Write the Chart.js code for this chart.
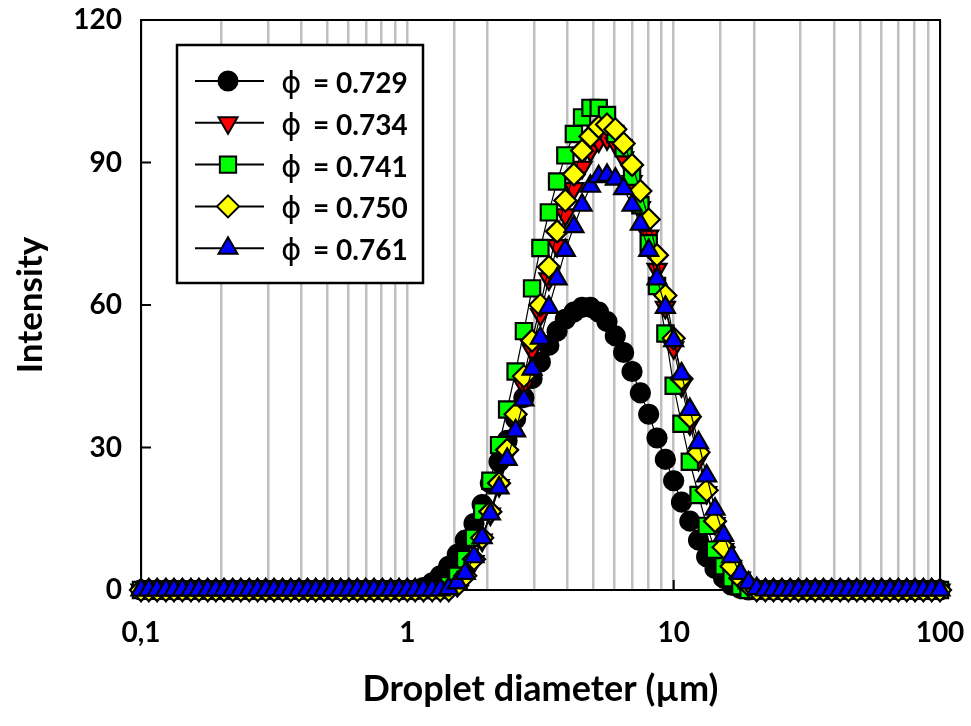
<!DOCTYPE html>
<html>
<head>
<meta charset="utf-8">
<script src="https://cdn.jsdelivr.net/npm/chart.js@4.4.1/dist/chart.umd.min.js"></script>
<style>
  html, body { margin: 0; padding: 0; background: #fff; }
</style>
</head>
<body>
<canvas id="c" width="971" height="726"></canvas>
<script>
// droplet diameter classes (um), log spaced
const diameters = [
  0.1, 0.107, 0.115, 0.124, 0.133, 0.143, 0.154, 0.165, 0.178, 0.191, 0.205, 0.221, 0.237, 0.255, 0.274, 0.294,
  0.316, 0.340, 0.365, 0.392, 0.422, 0.453, 0.487, 0.523, 0.562, 0.604, 0.649, 0.698, 0.750, 0.806, 0.866, 0.931,
  1, 1.07, 1.15, 1.24, 1.33, 1.43, 1.54, 1.65, 1.78, 1.91, 2.05, 2.21, 2.37, 2.55, 2.74, 2.94,
  3.16, 3.40, 3.65, 3.92, 4.22, 4.53, 4.87, 5.23, 5.62, 6.04, 6.49, 6.98, 7.50, 8.06, 8.66, 9.31,
  10, 10.7, 11.5, 12.4, 13.3, 14.3, 15.4, 16.5, 17.8, 19.1, 20.5, 22.1, 23.7, 25.5, 27.4, 29.4,
  31.6, 34.0, 36.5, 39.2, 42.2, 45.3, 48.7, 52.3, 56.2, 60.4, 64.9, 69.8, 75.0, 80.6, 86.6, 93.1,
  100
];

const phiValues = ['0.729', '0.734', '0.741', '0.750', '0.761'];

const d729 = [
  0,0,0,0,0,0,0,0,0,0,0,0,0,0,0,0,
  0,0,0,0,0,0,0,0,0,0,0,0,0,0,0,0,
  0,0,0.5,1.5,3,5,7.5,10.5,14,18,22.5,27,31.5,36,40.5,44.5,
  48,51.5,54.5,57,58.5,59.5,59.5,58.5,56.5,53.5,50,46,41.5,37,32,27.5,
  23,18.5,14.5,10.5,7,4.5,2.5,1,0.3,0,0,0,0,0,0,0,
  0,0,0,0,0,0,0,0,0,0,0,0,0,0,0,0,
  0
];
const d734 = [
  0,0,0,0,0,0,0,0,0,0,0,0,0,0,0,0,
  0,0,0,0,0,0,0,0,0,0,0,0,0,0,0,0,
  0,0,0,0,0,0,1,3,6,10.5,16,22,28.5,35.5,43,50.5,
  58,65.5,72.5,79,84.5,89,92.5,94.5,95,94,91,86,80.5,74.5,67.5,59.5,
  51,43,35,27.5,20.5,14,8.5,5,2.5,1,0,0,0,0,0,0,
  0,0,0,0,0,0,0,0,0,0,0,0,0,0,0,0,
  0
];
const d741 = [
  0,0,0,0,0,0,0,0,0,0,0,0,0,0,0,0,
  0,0,0,0,0,0,0,0,0,0,0,0,0,0,0,0,
  0,0,0,0,0,1,3,6.5,11,16.5,23,30.5,38,46,54.5,63.5,
  72,79.5,86,91.5,96,99.5,101.5,101.5,100,96,93,87,81,73,64,54,
  43,35,27,20,13.5,8.5,5,2.5,0.8,0,0,0,0,0,0,0,
  0,0,0,0,0,0,0,0,0,0,0,0,0,0,0,0,
  0
];
const d750 = [
  0,0,0,0,0,0,0,0,0,0,0,0,0,0,0,0,
  0,0,0,0,0,0,0,0,0,0,0,0,0,0,0,0,
  0,0,0,0,0,0,1,3,6.5,11,16.5,22.5,29.5,37,45,52.5,
  60,68,75.5,82,87.5,92.5,95.5,97.5,98,97,94,89.5,84,78,70.5,62,
  53,44.5,36.5,29,21,14.5,9,5,2.5,1,0,0,0,0,0,0,
  0,0,0,0,0,0,0,0,0,0,0,0,0,0,0,0,
  0
];
const d761 = [
  0,0,0,0,0,0,0,0,0,0,0,0,0,0,0,0,
  0,0,0,0,0,0,0,0,0,0,0,0,0,0,0,0,
  0,0,0,0,0,0.3,1.5,3.5,7,11,16,21.5,27.5,33.5,40,46.5,
  53,59.5,65.5,71.5,76.5,81,85,87,87.3,86.5,84.5,81,77,71.5,65.5,59.5,
  52.5,45.5,38,31,24,17,11.5,7,3.5,1.5,0.3,0,0,0,0,0,
  0,0,0,0,0,0,0,0,0,0,0,0,0,0,0,0,
  0
];

const yTicks = [0, 30, 60, 90, 120];
const xMajor = [0.1, 1, 10, 100];
const xTickText = { '0.1': '0,1', '1': '1', '10': '10', '100': '100' };

function pts(series) {
  return diameters.map((d, i) => ({ x: d, y: series[i] }));
}

function drawMarker(ctx, style, x, y, r, rot) {
  ctx.beginPath();
  if (style === 'circle') {
    ctx.arc(x, y, r, 0, Math.PI * 2);
  } else if (style === 'triangle') {
    const a0 = (rot || 0) * Math.PI / 180;
    for (let k = 0; k < 3; k++) {
      const a = a0 + k * 2 * Math.PI / 3;
      ctx.lineTo(x + Math.sin(a) * r, y - Math.cos(a) * r);
    }
  } else if (style === 'rect') {
    const s = r * Math.SQRT1_2;
    ctx.rect(x - s, y - s, 2 * s, 2 * s);
  } else if (style === 'rectRot') {
    ctx.moveTo(x, y - r); ctx.lineTo(x + r, y); ctx.lineTo(x, y + r); ctx.lineTo(x - r, y);
  }
  ctx.closePath();
  ctx.fill();
  ctx.stroke();
}

const frameAndLegend = {
  id: 'frameAndLegend',
  beforeDatasetsDraw(chart) {
    const { ctx, chartArea: a, scales: { x, y } } = chart;
    ctx.save();
    ctx.strokeStyle = '#000';
    ctx.lineWidth = 2;
    ctx.strokeRect(a.left, a.top, a.right - a.left, a.bottom - a.top);
    ctx.beginPath();
    yTicks.forEach(v => {
      const py = y.getPixelForValue(v);
      ctx.moveTo(a.left, py); ctx.lineTo(a.left + 10, py);
    });
    xMajor.forEach(v => {
      const px = x.getPixelForValue(v);
      ctx.moveTo(px, a.bottom); ctx.lineTo(px, a.bottom - 10);
    });
    ctx.stroke();
    ctx.restore();
  },
  afterDatasetsDraw(chart) {
    const ctx = chart.ctx;
    ctx.save();
    ctx.fillStyle = '#fff';
    ctx.fillRect(177, 45, 246, 238);
    ctx.strokeStyle = '#000';
    ctx.lineWidth = 2.5;
    ctx.strokeRect(177, 45, 246, 238);
    chart.data.datasets.forEach((ds, i) => {
      const cy = 81 + i * 41.8;
      ctx.lineWidth = 2;
      ctx.strokeStyle = '#000';
      ctx.beginPath();
      ctx.moveTo(195, cy); ctx.lineTo(264, cy);
      ctx.stroke();
      ctx.fillStyle = ds.pointBackgroundColor;
      ctx.lineWidth = 2;
      drawMarker(ctx, ds.pointStyle, 228, cy, ds.pointRadius, ds.pointRotation);
      ctx.fillStyle = '#000';
      ctx.textBaseline = 'alphabetic';
      ctx.font = '31px "DejaVu Sans"';
      ctx.fillText('\u03D5', 281, cy + 12);
      ctx.font = 'bold 28px Lato';
      ctx.fillText('= ' + phiValues[i], 313, cy + 12);
    });
    ctx.restore();
  }
};

Chart.defaults.font.family = 'Lato';
Chart.defaults.font.weight = 'bold';
Chart.defaults.color = '#000';

function series(data, style, fill, radius, rot, order) {
  return {
    data: pts(data),
    showLine: true,
    borderColor: '#000',
    borderWidth: 1.2,
    pointStyle: style,
    pointRotation: rot,
    pointRadius: radius,
    pointBackgroundColor: fill,
    pointBorderColor: '#000',
    pointBorderWidth: 2.2,
    clip: false,
    order: order
  };
}

new Chart(document.getElementById('c'), {
  type: 'scatter',
  data: {
    datasets: [
      series(d729, 'circle', '#000000', 9.5, 0, 5),
      series(d734, 'triangle', '#ff0000', 11, 180, 4),
      series(d741, 'rect', '#00ff00', 11.5, 0, 3),
      series(d750, 'rectRot', '#ffff00', 11, 0, 2),
      series(d761, 'triangle', '#0000ff', 11, 0, 1)
    ]
  },
  options: {
    responsive: false,
    animation: false,
    layout: { padding: { top: 20, right: 31, left: 0, bottom: 0 } },
    plugins: { legend: { display: false }, tooltip: { enabled: false } },
    scales: {
      x: {
        type: 'logarithmic',
        min: 0.1,
        max: 100,
        afterFit: s => { s.height = 136; s.paddingLeft = 0; s.paddingRight = 0; },
        border: { display: false },
        grid: { color: '#c0c0c0', lineWidth: 2.5, drawTicks: false },
        ticks: {
          autoSkip: false,
          maxRotation: 0,
          padding: 26,
          font: { size: 28, weight: 'bold' },
          callback: v => {
            const e = Math.log10(v);
            if (Math.abs(e - Math.round(e)) > 1e-6) return '';
            return xTickText[String(Math.pow(10, Math.round(e)))] || '';
          }
        },
        title: {
          display: true,
          text: 'Droplet diameter (\u00B5m)',
          font: { size: 36, weight: 'bold' },
          padding: { top: 0, bottom: 15 }
        }
      },
      y: {
        min: 0,
        max: 120,
        afterFit: s => { s.width = 141; s.paddingTop = 0; s.paddingBottom = 0; },
        afterBuildTicks: s => { s.ticks = yTicks.map(v => ({ value: v })); },
        border: { display: false },
        grid: { display: false, drawTicks: false },
        ticks: { padding: 19, font: { size: 28, weight: 'bold' } },
        title: {
          display: true,
          text: 'Intensity',
          font: { size: 35, weight: 'bold' },
          padding: { top: 10, bottom: 0 }
        }
      }
    }
  },
  plugins: [frameAndLegend]
});
</script>
</body>
</html>
